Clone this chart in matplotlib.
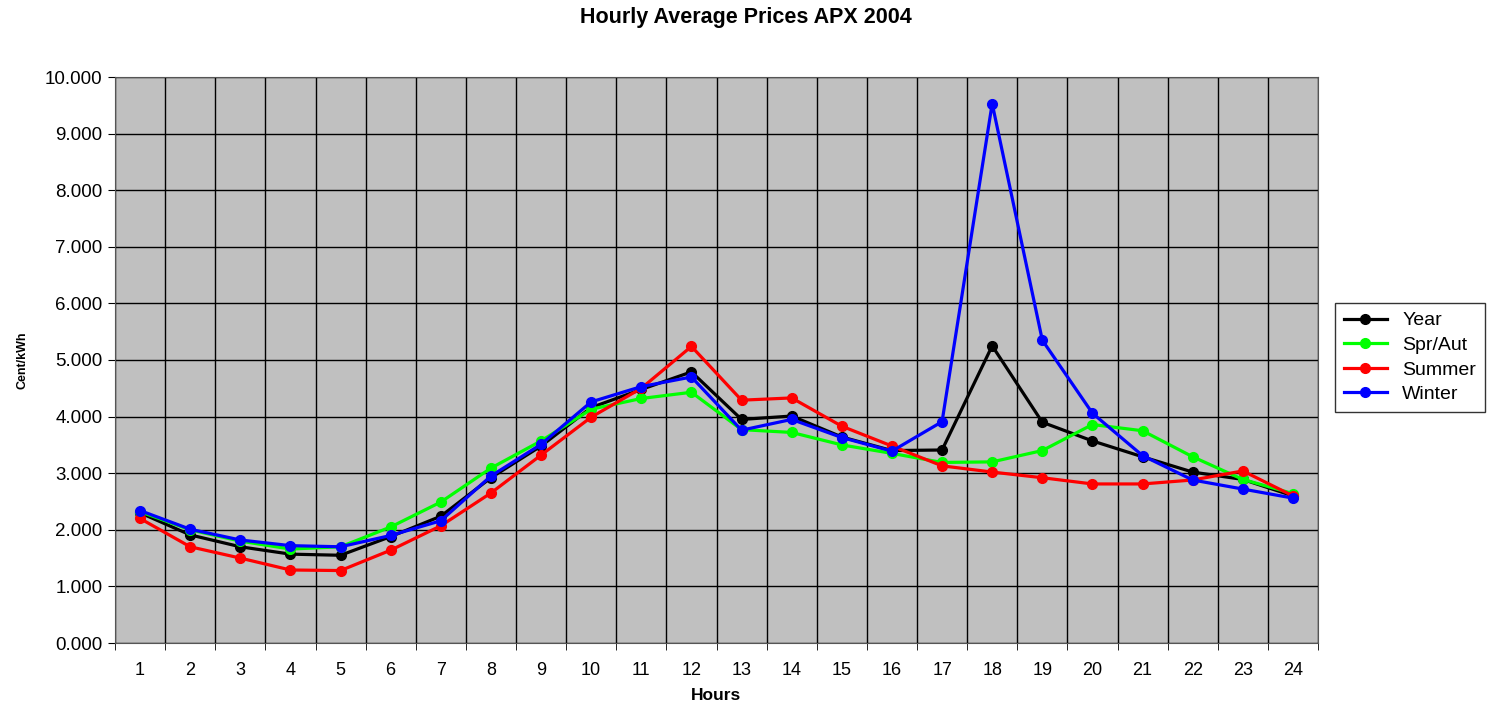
import matplotlib
matplotlib.use("Agg")
import matplotlib.pyplot as plt
import numpy as np

plt.rcParams['font.family'] = ['Liberation Sans', 'DejaVu Sans']

hours = [str(h) for h in range(1, 25)]
year = [2.30, 1.91, 1.70, 1.57, 1.55, 1.88, 2.24, 2.92, 3.48, 4.16, 4.48, 4.79, 3.95, 4.01,
        3.64, 3.40, 3.41, 5.25, 3.90, 3.57, 3.29, 3.02, 2.89, 2.60]
spr_aut = [2.32, 2.00, 1.80, 1.66, 1.70, 2.05, 2.49, 3.09, 3.57, 4.13, 4.32, 4.43, 3.77, 3.72,
           3.50, 3.35, 3.19, 3.20, 3.40, 3.86, 3.75, 3.29, 2.89, 2.64]
summer = [2.20, 1.70, 1.50, 1.29, 1.28, 1.64, 2.07, 2.65, 3.32, 3.99, 4.50, 5.24, 4.29, 4.33,
          3.83, 3.48, 3.13, 3.02, 2.92, 2.81, 2.81, 2.88, 3.04, 2.60]
winter = [2.34, 2.01, 1.82, 1.72, 1.70, 1.90, 2.16, 2.95, 3.51, 4.26, 4.53, 4.70, 3.76, 3.95,
          3.63, 3.39, 3.91, 9.53, 5.35, 4.06, 3.31, 2.88, 2.72, 2.56]

series = [("Year", year, "#000000"), ("Spr/Aut", spr_aut, "#00FF00"),
          ("Summer", summer, "#FF0000"), ("Winter", winter, "#0000FF")]

fig = plt.figure(figsize=(14.91, 7.04), dpi=100)
ax = fig.add_axes([115/1491, 61/704, 1203/1491, 566/704])
ax.set_facecolor("#C0C0C0")

x = np.arange(1, 25)
for name, vals, col in series:
    ax.plot(x, vals, color=col, lw=2.3, marker='o', ms=7, label=name, zorder=3)

ax.set_xlim(0.5, 24.5)
ax.set_ylim(0, 10)
ax.set_yticks(np.arange(0, 10.01, 1))
ax.set_yticklabels([f"{v:.3f}" for v in np.arange(0, 10.01, 1)], fontsize=13.5)
ax.set_xticks(x)
ax.set_xticklabels(hours, fontsize=13)
ax.set_xticks(np.arange(0.5, 24.6, 1), minor=True)
ax.tick_params(axis='x', which='major', length=0, pad=14)
ax.tick_params(axis='x', which='minor', length=5, direction='out')
ax.tick_params(axis='y', length=5, direction='out', pad=4)
ax.grid(True, which='minor', axis='x', color='black', lw=1)
ax.grid(True, which='major', axis='y', color='black', lw=1)
ax.set_axisbelow(True)
for s in ax.spines.values():
    s.set_color('#555555')

ax.set_xlabel("Hours", fontsize=12.5, fontweight='bold', labelpad=6)
ax.set_ylabel("Cent/kWh", fontsize=9, fontweight='bold', labelpad=12)
fig.text(0.5, 1 - 17/704, "Hourly Average Prices APX 2004", ha='center', va='center',
         fontsize=15.5, fontweight='bold')

leg = fig.legend(loc='upper left', bbox_to_anchor=(1335/1491, 1 - 303/704), fontsize=14,
                 frameon=True, fancybox=False, edgecolor='black', borderaxespad=0,
                 handlelength=2.2, handletextpad=0.8, labelspacing=0.36, borderpad=0.45)
leg.get_frame().set_linewidth(1)

fig.savefig("out.png", dpi=100)
